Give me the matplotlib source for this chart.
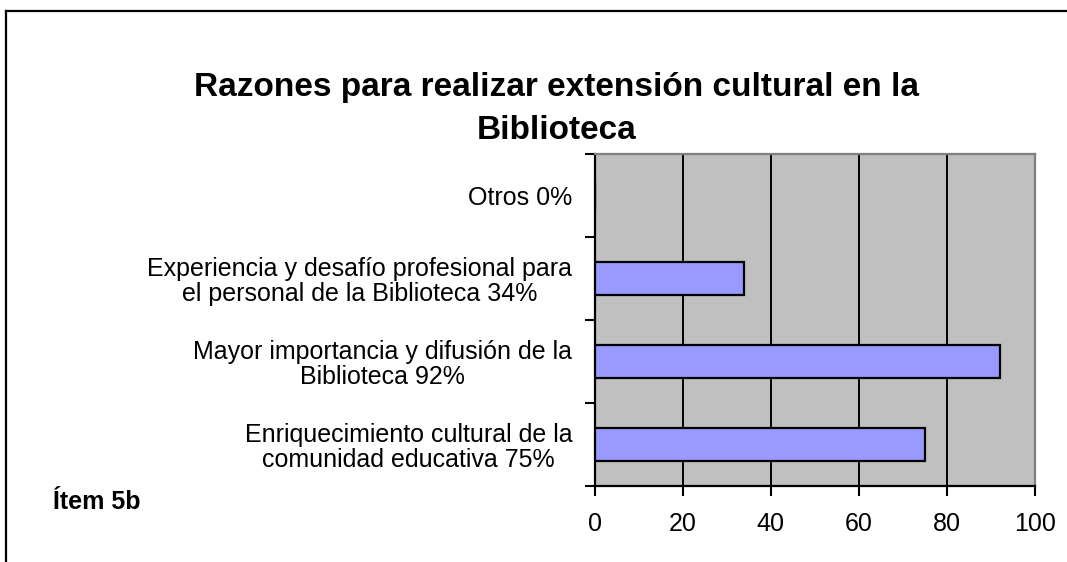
import matplotlib.pyplot as plt
from matplotlib.lines import Line2D

plt.rcParams['font.family'] = ['Liberation Sans', 'DejaVu Sans']

# categories, bottom to top
categories = [
    'Enriquecimiento cultural de la\ncomunidad educativa 75%',
    'Mayor importancia y difusión de la\nBiblioteca 92%',
    'Experiencia y desafío profesional para\nel personal de la Biblioteca 34%',
    'Otros 0%',
]
values = [75, 92, 34, 0]
xticks = [0, 20, 40, 60, 80, 100]

fig = plt.figure(figsize=(10.67, 5.62), dpi=100)
ax = fig.add_axes([0.5572, 0.1352, 0.4128, 0.5908])
ax.set_facecolor('#C0C0C0')

ypos = list(range(len(categories)))
ax.barh(ypos, values, height=0.4, color='#9999FF', edgecolor='black',
        linewidth=1.6, zorder=3)

ax.set_xlim(0, 100)
ax.set_ylim(-0.5, len(categories) - 0.5)
ax.set_xticks(xticks)
ax.set_xticklabels([str(t) for t in xticks], fontsize=18)
ax.tick_params(axis='x', direction='out', length=7, width=1.5, pad=12)
ax.xaxis.grid(True, color='black', linewidth=1.4, zorder=1)
ax.set_axisbelow(True)

ax.set_yticks(ypos)
ax.set_yticklabels(categories, fontsize=18, linespacing=1.05,
                   multialignment='center')
ax.tick_params(axis='y', which='major', length=0, pad=16)
ax.set_yticks([i - 0.5 for i in range(len(categories) + 1)], minor=True)
ax.tick_params(axis='y', which='minor', direction='out', length=7, width=1.5)

for s in ['left', 'bottom']:
    ax.spines[s].set_color('black')
    ax.spines[s].set_linewidth(1.6)
for s in ['top', 'right']:
    ax.spines[s].set_color('#808080')
    ax.spines[s].set_linewidth(1.6)

fig.text(0.522, 0.806, 'Razones para realizar extensión cultural en la\nBiblioteca',
         ha='center', va='center', fontsize=24, fontweight='bold',
         linespacing=1.5)
fig.text(0.05, 0.107, 'Ítem 5b', ha='left', va='center', fontsize=18,
         fontweight='bold')

# outer frame (left and top edges visible)
fig.add_artist(Line2D([6 / 1067, 6 / 1067], [0, 1 - 11 / 562],
                      transform=fig.transFigure, color='black', linewidth=1.6))
fig.add_artist(Line2D([6 / 1067, 1], [1 - 11 / 562, 1 - 11 / 562],
                      transform=fig.transFigure, color='black', linewidth=1.6))

fig.savefig('out.png', dpi=100)
